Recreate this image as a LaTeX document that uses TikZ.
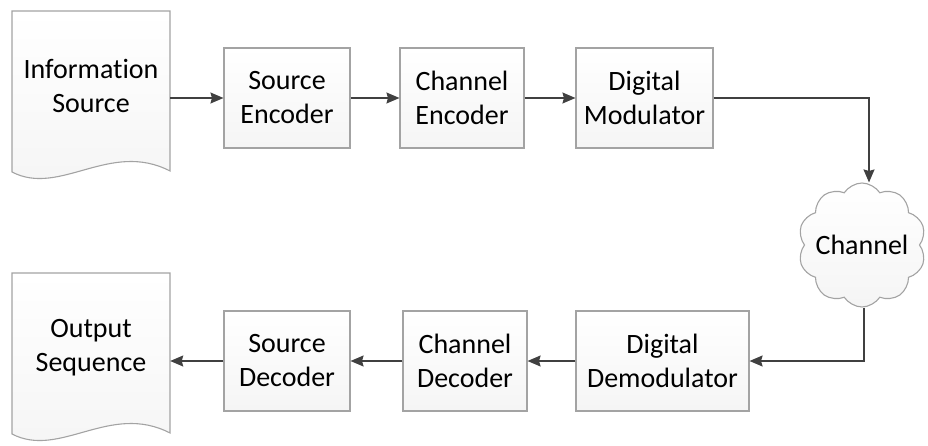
\documentclass[tikz,border=0pt]{standalone}
\usepackage{fontspec}
\setmainfont{Carlito}[Ligatures=NoCommon]
\usetikzlibrary{shapes.symbols,arrows.meta,calc}
\definecolor{edgegray}{HTML}{A3A3A3}
\definecolor{linegray}{HTML}{404040}
\tikzset{
  blockfont/.style={font=\fontsize{28}{34}\selectfont, text=black, align=center},
  block/.style={blockfont, draw=edgegray, line width=1.1pt,
    top color=white, bottom color=black!4, rectangle,
    minimum height=100pt, inner sep=0pt},
  docarea/.style={blockfont, rectangle, inner sep=0pt},
  docline/.style={draw=edgegray, line width=1.1pt, top color=white, bottom color=black!4},
  arr/.style={draw=linegray, line width=1.4pt,
    -{Stealth[length=13pt,width=11pt,inset=1.5pt]}},
}
\begin{document}
\begin{tikzpicture}[x=1pt,y=-1pt]
  \useasboundingbox (0,0) rectangle (928,446);

  % document-shaped source and sink
  \path[docline] (12,11) -- (170,11) -- (170,171)
    .. controls (110,140) and (60,197) .. (12,172) -- cycle;
  \node[docarea, minimum width=158pt, minimum height=161pt] (info) at (91,91.5) {};
  \node[blockfont] (infotext) at (91,86) {Information\\Source};

  \path[docline] (12,273) -- (170,273) -- (170,433)
    .. controls (110,402) and (60,459) .. (12,434) -- cycle;
  \node[docarea, minimum width=158pt, minimum height=161pt] (out) at (91,353) {};
  \node[blockfont] (outtext) at (91,348) {Output\\Sequence};

  % transmitter chain
  \node[block, minimum width=126pt] (senc) at (287,98) {Source\\Encoder};
  \node[block, minimum width=124pt] (cenc) at (462,98) {Channel\\Encoder};
  \node[block, minimum width=137pt] (mod) at (644.5,98) {Digital\\Modulator};

  % channel: empty cloud outline with its label laid over it
  \node[cloud, cloud puffs=10, cloud puff arc=115, aspect=1.05,
        draw=edgegray, line width=1.1pt, top color=white, bottom color=black!4,
        minimum width=128pt, minimum height=124pt, inner sep=0pt] (chan) at (862,245) {};
  \node[blockfont] (chantext) at (chan.center) {Channel};

  % receiver chain
  \node[block, minimum width=173pt] (demod) at (662.5,361) {Digital\\Demodulator};
  \node[block, minimum width=124pt] (cdec) at (465,361) {Channel\\Decoder};
  \node[block, minimum width=126pt] (sdec) at (287,361) {Source\\Decoder};

  % signal flow
  \draw[arr] (senc.west -| info.east) -- (senc.west);
  \draw[arr] (senc.east) -- (cenc.west);
  \draw[arr] (cenc.east) -- (mod.west);
  \draw[arr] (mod.east) -| ([xshift=7pt]chan.north);
  \draw[arr] ([xshift=2pt]chan.south) |- (demod.east);
  \draw[arr] (demod.west) -- (cdec.east);
  \draw[arr] (cdec.west) -- (sdec.east);
  \draw[arr] (sdec.west) -- (sdec.west -| out.east);
\end{tikzpicture}
\end{document}
